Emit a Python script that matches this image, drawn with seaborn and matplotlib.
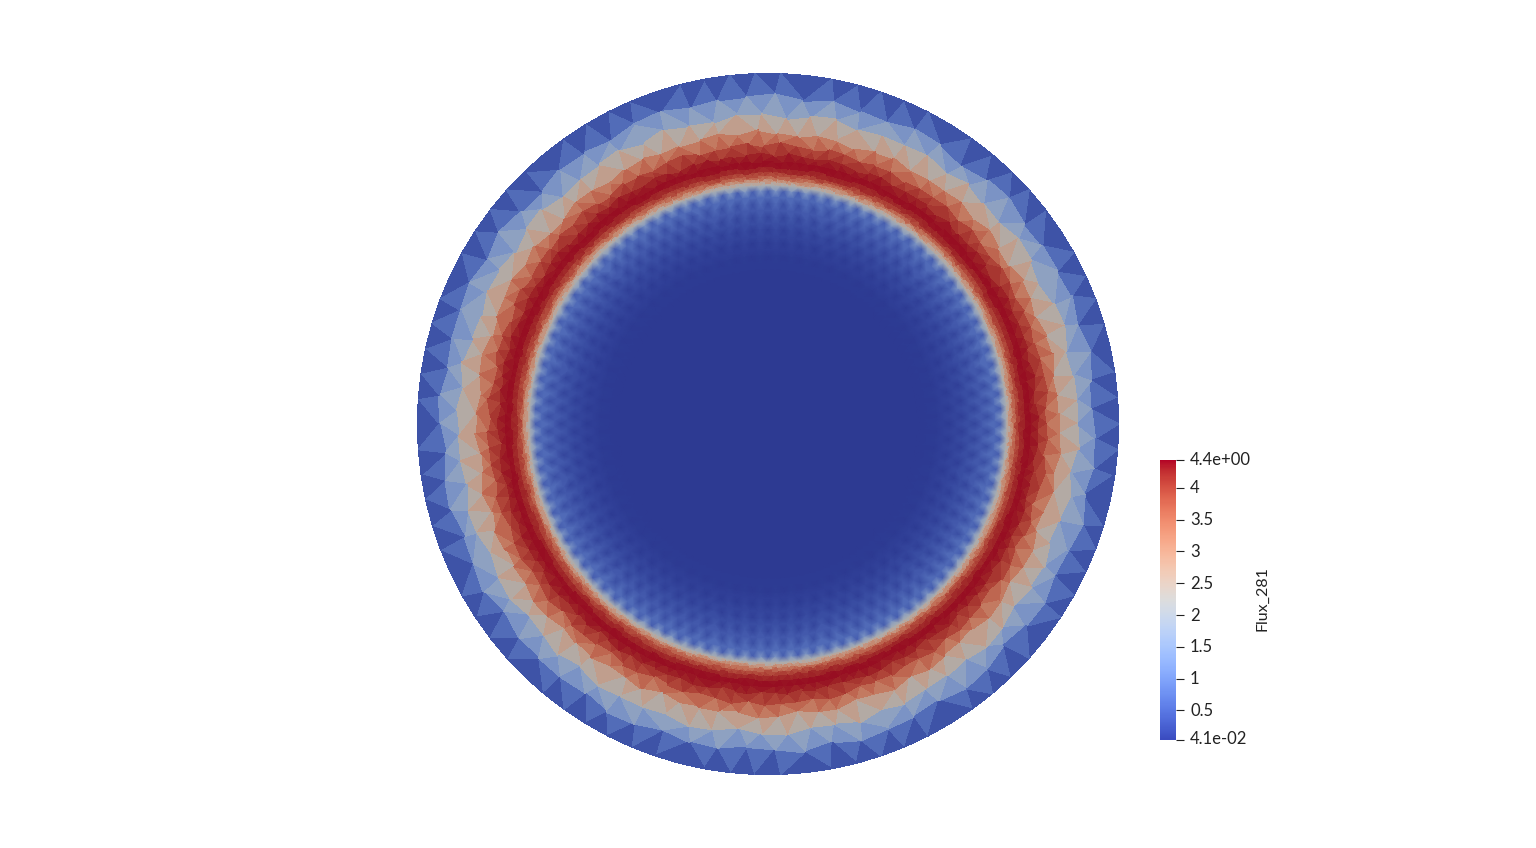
import numpy as np
import matplotlib
matplotlib.use("Agg")
import matplotlib.pyplot as plt
from matplotlib.cm import ScalarMappable
from matplotlib.colors import Normalize, ListedColormap
from matplotlib.transforms import ScaledTranslation
from matplotlib.tri import Triangulation
import seaborn as sns

# ---- values ----
scalar_name = "Flux_281"
flux_min, flux_max = 0.041, 4.44
tick_values = [0.041, 0.5, 1, 1.5, 2, 2.5, 3, 3.5, 4, 4.44]
tick_labels = ["4.1e-02", "0.5", "1", "1.5", "2", "2.5", "3", "3.5", "4", "4.4e+00"]

# coarse outer mesh, boundary inward (flat-shaded triangles)
ring_radius = [350.5, 327, 309, 291, 279, 269, 262, 256, 251, 247, 244, 241, 238]
ring_nodes = [86, 71, 79, 92, 107, 124, 150, 180, 210, 240, 270, 300, 330]
ring_flux = [0.05, 1.05, 2.0, 3.1, 3.85, 4.25, 4.4, 4.35, 4.15, 3.8, 3.3, 2.7, 2.1]
ring_wobble = [3, 3, 3, 2.5, 2, 1.5, 0, 0, 0, 0, 0, 0, 0]

# fine inner zone: lattice of dark dots on lighter surroundings
dot_radius = [233, 220, 207, 194, 181, 168, 150, 110, 60, 20]
dot_count = [96, 90, 84, 78, 72, 66, 60, 40, 20, 6]
dot_flux = [0.5, 0.3, 0.18, 0.11, 0.07, 0.05, 0.05, 0.05, 0.05, 0.05]
gap_flux = [1.45, 0.68, 0.44, 0.28, 0.17, 0.09, 0.05, 0.05, 0.05, 0.05]
mid_flux = [0.68, 0.46, 0.3, 0.19, 0.11, 0.06, 0.05, 0.05, 0.05]

wobble_pattern = [0.2, 1.0, -0.7, 1.2, -0.4, -1.0, 0.8, 0.3, -1.2, 0.5, 1.1, -0.6, 0.1]
# brightness of the lit surface relative to the colour bar
shade_flux = [0.04, 2.2, 3.4, 4.44]
shade_gain = [0.76, 0.78, 0.8, 0.82]

CX, CY = 768, 424
sns.set_theme(style="white")
plt.rcParams["font.family"] = ["Lato", "DejaVu Sans"]
bar_cmap = sns.color_palette("coolwarm", as_cmap=True)
levels = np.linspace(0, 1, 256)
gain = np.interp(flux_min + levels * (flux_max - flux_min), shade_flux, shade_gain)
surface_cmap = ListedColormap(bar_cmap(levels)[:, :3] * gain[:, None])
norm = Normalize(flux_min, flux_max)

xs, ys, vals = [], [], []
def add_ring(radius, count, values, phase, wobble=0.0):
    ang = phase + 2 * np.pi * np.arange(count) / count
    rad = np.full(count, float(radius))
    if wobble:
        rad = rad + wobble * np.resize(wobble_pattern, count)
    xs.extend(CX + rad * np.cos(ang))
    ys.extend(CY + rad * np.sin(ang))
    vals.extend(np.resize(values, count))

for k, (r, n, f, w) in enumerate(zip(ring_radius, ring_nodes, ring_flux, ring_wobble)):
    add_ring(r, n, [f], (k % 2) * np.pi / n, w if k else 0.0)
n_outer = len(xs)

for k, (r, n, d, g) in enumerate(zip(dot_radius, dot_count, dot_flux, gap_flux)):
    phase = (k % 2) * np.pi / n
    add_ring(r, 2 * n, [d, g], phase)
    if k + 1 < len(dot_radius):
        r2 = dot_radius[k + 1]
        add_ring((r + r2) / 2, 2 * n, [mid_flux[k]], phase + np.pi / (2 * n))
add_ring(0.001, 1, [0.05], 0.0)

xs, ys, vals = np.array(xs), np.array(ys), np.array(vals)
all_tri = Triangulation(xs, ys).triangles
is_inner = (all_tri >= n_outer - ring_nodes[-1]).all(axis=1)

fig = plt.figure(figsize=(15.36, 8.48), dpi=100, facecolor="white")
ax = fig.add_axes([0, 0, 1, 1])
ax.set_xlim(0, 1536)
ax.set_ylim(848, 0)
ax.axis("off")
ax.tripcolor(xs, ys, all_tri[~is_inner], vals, cmap=surface_cmap, norm=norm,
             shading="flat", edgecolors="face", linewidth=0.3, antialiased=False)
ax.tripcolor(xs, ys, all_tri[is_inner], vals, cmap=surface_cmap, norm=norm,
             shading="gouraud")

# colour bar: x 1160-1176, y 460-739 in pixels
cax = fig.add_axes([1160 / 1536, 1 - 739.5 / 848, 16 / 1536, 279.5 / 848])
cb = fig.colorbar(ScalarMappable(norm=norm, cmap=bar_cmap), cax=cax)
cb.outline.set_visible(False)
cb.set_ticks(tick_values, labels=tick_labels)
cax.minorticks_off()
cax.tick_params(axis="y", which="major", direction="out", length=5.8, width=0.8,
                color="#222222", pad=4.3, labelsize=12, labelcolor="#222222", right=True)
cax.yaxis.set_ticks(tick_values, minor=True)
cax.tick_params(axis="y", which="minor", direction="in", length=2.9, width=0.8,
                color="#222222", right=True, left=False)
labels = cax.yaxis.get_ticklabels()
shifts = [2.0, 1, 1, 1, 1, 1, 1, 1, 1, 1.0]
for label, shift in zip(labels, shifts):
    label.set_transform(label.get_transform() + ScaledTranslation(0, shift / 100, fig.dpi_scale_trans))
fig.text(1262 / 1536, 1 - 599 / 848, scalar_name, rotation=90, ha="center", va="center",
         fontsize=11.5, color="#222222")

fig.savefig("out.png", dpi=100, facecolor="white")
